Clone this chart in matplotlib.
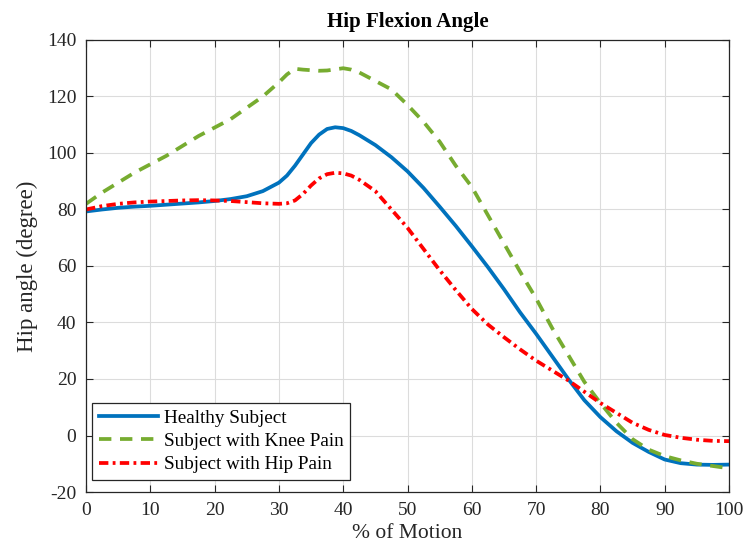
import matplotlib
matplotlib.use("Agg")
import matplotlib.pyplot as plt

motion = [0, 2.5, 5, 7.5, 10, 12.5, 15, 17.5, 20, 22.5, 25, 27.5, 30, 31.25, 32.5, 33.75,
          35, 36.25, 37.5, 38.75, 40, 41.25, 42.5, 45, 47.5, 50, 52.5, 55, 57.5, 60, 62.5,
          65, 67.5, 70, 72.5, 75, 77.5, 80, 82.5, 85, 87.5, 90, 92.5, 95, 97.5, 100]

healthy = [79.3, 80.0, 80.6, 81.0, 81.3, 81.7, 82.1, 82.5, 83.0, 83.7, 84.7, 86.5, 89.5,
           92.0, 95.5, 99.5, 103.5, 106.5, 108.5, 109.1, 108.8, 107.8, 106.3, 102.8,
           98.5, 93.5, 87.6, 81.0, 74.2, 67.0, 59.6, 51.8, 43.6, 36.0, 28.0, 20.0, 12.5,
           6.5, 1.5, -2.6, -5.8, -8.5, -9.8, -10.3, -10.4, -10.3]

knee_pain = [82.0, 86.0, 89.5, 93.0, 96.0, 99.0, 102.5, 106.0, 109.0, 112.0, 116.0, 120.0,
             125.0, 127.8, 129.8, 129.5, 129.3, 129.1, 129.2, 129.6, 130.0, 129.5, 128.5,
             125.5, 122.5, 117.0, 111.0, 104.0, 95.5, 88.0, 78.0, 68.0, 58.0, 48.5, 38.0,
             28.5, 19.0, 11.5, 4.5, -1.3, -5.0, -7.3, -8.8, -10.0, -10.8, -11.6]

hip_pain = [80.0, 81.2, 82.0, 82.5, 82.8, 83.0, 83.2, 83.3, 83.2, 83.0, 82.6, 82.2, 82.0,
            82.2, 83.2, 85.5, 88.5, 91.0, 92.5, 93.0, 92.8, 92.0, 90.5, 86.5, 80.0, 73.5,
            66.0, 58.5, 51.5, 44.8, 39.3, 34.8, 30.5, 26.5, 23.0, 19.5, 15.5, 11.5, 8.0,
            4.5, 2.0, 0.2, -0.8, -1.5, -1.9, -2.0]

series_labels = ["Healthy Subject", "Subject with Knee Pain", "Subject with Hip Pain"]
xticks = list(range(0, 101, 10))
yticks = list(range(-20, 141, 20))

plt.rcParams['font.family'] = ['Liberation Serif', 'DejaVu Serif']
plt.rcParams['axes.unicode_minus'] = False

fig = plt.figure(figsize=(7.5, 5.56), dpi=100)
ax = fig.add_axes([0.1147, 0.1151, 0.8573, 0.813])

lw = 2.7
ax.plot(motion, healthy, color='#0072BD', lw=lw, label=series_labels[0])
ax.plot(motion, knee_pain, color='#77AC30', lw=lw, linestyle=(0, (3.3, 2.3)), label=series_labels[1])
ax.plot(motion, hip_pain, color='#FF0000', lw=lw, linestyle=(0, (2.5, 1.15, 0.75, 1.15)), label=series_labels[2])

ax.set_xlim(0, 100)
ax.set_ylim(-20, 140)
ax.set_xticks(xticks)
ax.set_yticks(yticks)
ax.grid(True, color='#dcdcdc', linewidth=0.8)
ax.set_axisbelow(True)
ax.tick_params(direction='in', length=5, width=0.8, top=True, right=True,
               labelsize=14, colors='#262626', pad=7)
for s in ax.spines.values():
    s.set_color('#262626')
    s.set_linewidth(0.9)

ax.set_title("Hip Flexion Angle", fontsize=15, fontweight='bold', pad=9)
ax.set_xlabel("% of Motion", fontsize=15.5, color='#262626', labelpad=4)
ax.set_ylabel("Hip angle (degree)", fontsize=16.5, color='#262626', labelpad=6)

leg = ax.legend(loc='lower left', bbox_to_anchor=(0.0093, 0.0265), borderaxespad=0,
                fontsize=13.8, frameon=True, fancybox=False,
                handlelength=3.1, handletextpad=0.3, borderpad=0.35, labelspacing=0.3,
                edgecolor='#262626', framealpha=1)
leg.get_frame().set_linewidth(0.9)

fig.savefig("out.png", dpi=100)
